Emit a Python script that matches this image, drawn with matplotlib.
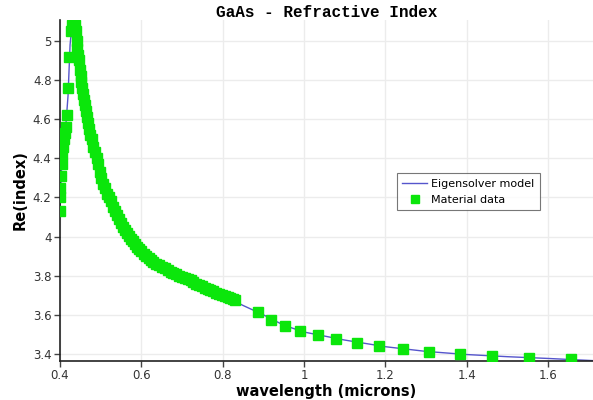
import matplotlib
matplotlib.use("Agg")
import matplotlib.pyplot as plt
from matplotlib.ticker import FuncFormatter

# measured material data (wavelength in microns, real part of index)
mat_x = [0.400, 0.400, 0.401, 0.402, 0.404, 0.406, 0.408, 0.410, 0.412, 0.414,
         0.418, 0.420, 0.423, 0.427, 0.429, 0.432, 0.436, 0.439, 0.441, 0.443,
         0.445, 0.447, 0.449, 0.451, 0.453, 0.455, 0.457, 0.459, 0.461, 0.463,
         0.466, 0.469, 0.472, 0.475, 0.478, 0.482, 0.486, 0.490, 0.494, 0.498,
         0.502, 0.506, 0.510, 0.515, 0.520, 0.525, 0.530, 0.535, 0.540, 0.545,
         0.550, 0.555, 0.560, 0.565, 0.570, 0.575, 0.580, 0.585, 0.590, 0.595,
         0.600, 0.606, 0.612, 0.618, 0.624, 0.630, 0.637, 0.644, 0.651, 0.658,
         0.665, 0.672, 0.679, 0.686, 0.693, 0.700, 0.707, 0.714, 0.721, 0.728,
         0.735, 0.742, 0.749, 0.756, 0.763, 0.770, 0.777, 0.784, 0.791, 0.798,
         0.805, 0.812, 0.819, 0.826, 0.830,
         0.886, 0.919, 0.954, 0.991, 1.034, 1.079, 1.130, 1.183, 1.243, 1.306,
         1.382, 1.462, 1.553, 1.656]
mat_n = [4.13, 4.20, 4.25, 4.31, 4.37, 4.42, 4.46, 4.50, 4.53, 4.56,
         4.62, 4.76, 4.92, 5.05, 5.08, 5.10, 5.08, 5.05, 5.00, 4.96,
         4.93, 4.90, 4.85, 4.82, 4.79, 4.76, 4.73, 4.70, 4.67, 4.64,
         4.61, 4.58, 4.55, 4.52, 4.50, 4.46, 4.43, 4.40, 4.37, 4.33,
         4.30, 4.27, 4.25, 4.22, 4.20, 4.18, 4.15, 4.13, 4.11, 4.09,
         4.07, 4.05, 4.035, 4.02, 4.005, 3.99, 3.975, 3.96, 3.948, 3.936,
         3.925, 3.912, 3.900, 3.889, 3.879, 3.870, 3.862, 3.853, 3.845, 3.837,
         3.829, 3.821, 3.814, 3.807, 3.801, 3.795, 3.789, 3.783, 3.776, 3.768,
         3.760, 3.753, 3.746, 3.739, 3.732, 3.726, 3.720, 3.713, 3.707, 3.701,
         3.695, 3.689, 3.684, 3.679, 3.676,
         3.616, 3.574, 3.543, 3.518, 3.497, 3.475, 3.458, 3.441, 3.426, 3.412,
         3.400, 3.390, 3.381, 3.373]

# eigensolver model curve
model_x = [0.400, 0.405, 0.410, 0.415, 0.420, 0.425, 0.430, 0.434, 0.440, 0.450,
           0.460, 0.470, 0.480, 0.490, 0.500, 0.520, 0.540, 0.560, 0.580, 0.600,
           0.630, 0.660, 0.700, 0.750, 0.800, 0.850, 0.900, 0.950, 1.000, 1.100,
           1.200, 1.300, 1.400, 1.500, 1.600, 1.710]
model_n = [4.13, 4.40, 4.50, 4.58, 4.72, 4.98, 5.09, 5.11, 5.02, 4.83,
           4.68, 4.57, 4.48, 4.40, 4.32, 4.20, 4.11, 4.035, 3.975, 3.925,
           3.87, 3.835, 3.795, 3.742, 3.70, 3.648, 3.600, 3.547, 3.512, 3.471,
           3.437, 3.413, 3.397, 3.386, 3.377, 3.366]

xticks = [0.4, 0.6, 0.8, 1.0, 1.2, 1.4, 1.6]
yticks = [3.4, 3.6, 3.8, 4.0, 4.2, 4.4, 4.6, 4.8, 5.0]

fig = plt.figure(figsize=(5.93, 4.0), dpi=100)
ax = fig.add_axes([0.101, 0.0975, 0.899, 0.8525])

ax.plot(model_x, model_n, color="#5555cc", lw=1.0, label="Eigensolver model", zorder=2)
ax.plot(mat_x, mat_n, ls="none", marker="s", ms=6.5, color="#0be60b",
        mec="#0be60b", label="Material data", zorder=3)

ax.set_xlim(0.4, 1.71)
ax.set_ylim(3.364, 5.107)
ax.set_xticks(xticks)
ax.set_yticks(yticks)
ax.xaxis.set_major_formatter(FuncFormatter(lambda v, p: "%g" % v))
ax.yaxis.set_major_formatter(FuncFormatter(lambda v, p: "%g" % v))
ax.grid(True, color="#ececec", lw=1)
ax.set_axisbelow(True)
for s in ["top", "right"]:
    ax.spines[s].set_visible(False)
for s in ["left", "bottom"]:
    ax.spines[s].set_color("#222222")
    ax.spines[s].set_linewidth(1.2)
ax.tick_params(length=4, width=1, pad=2, color="#444444", labelsize=8.5,
               labelcolor="#333333")

ax.set_xlabel("wavelength (microns)", fontsize=10.5, fontweight="bold", labelpad=1)
ax.set_ylabel("Re(index)", fontsize=10.5, fontweight="bold", labelpad=4)
ax.set_title("GaAs - Refractive Index", family="Liberation Mono", fontweight="bold",
             fontsize=11.5, pad=1)

leg = ax.legend(loc="upper left", bbox_to_anchor=(0.632, 0.551), borderaxespad=0,
                fontsize=8, frameon=True, fancybox=False, edgecolor="#555555",
                handlelength=2.2, handletextpad=0.4, borderpad=0.5,
                labelspacing=0.55, markerscale=0.85)
leg.get_frame().set_linewidth(0.8)

fig.savefig("out.png", dpi=100)
